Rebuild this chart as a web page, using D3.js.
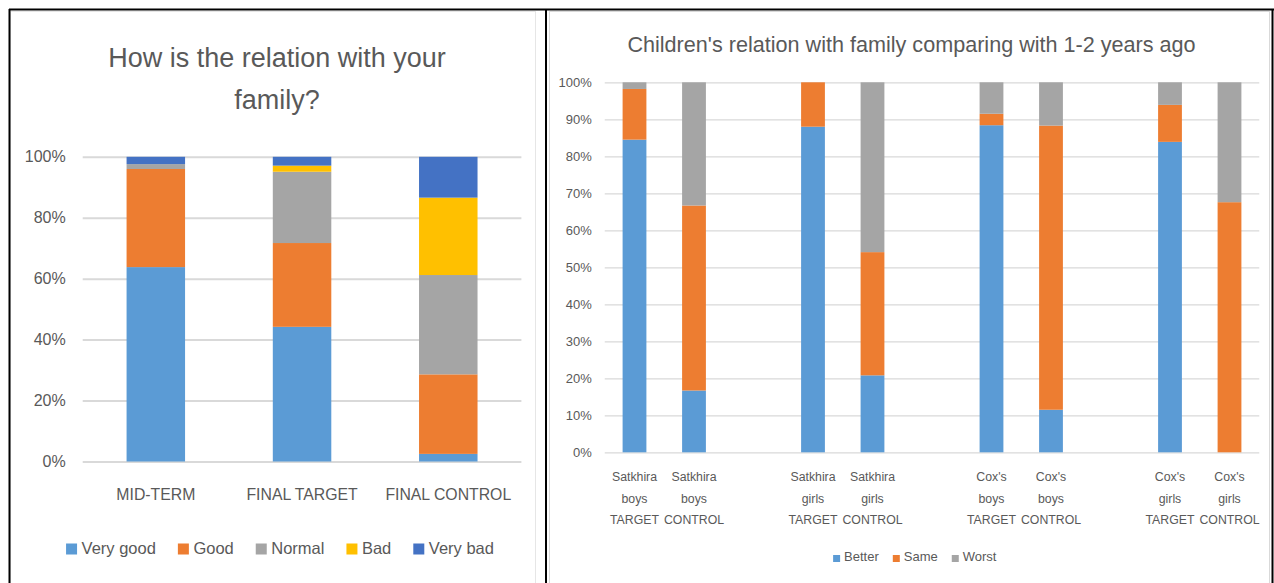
<!DOCTYPE html>
<html>
<head>
<meta charset="utf-8">
<script src="https://cdn.jsdelivr.net/npm/d3@7"></script>
<style>
  html, body { margin: 0; padding: 0; background: #fff; }
  svg { display: block; }
  text { font-family: "Liberation Sans", Arial, sans-serif; fill: #595959; }
</style>
</head>
<body>
<svg id="chart" width="1274" height="583"></svg>
<script>
// ---- Panel 1: How is the relation with your family? ----
const familyCategories = ["MID-TERM", "FINAL TARGET", "FINAL CONTROL"];
const familySeries = ["Very good", "Good", "Normal", "Bad", "Very bad"];
const veryGood = [63.8, 44.2, 2.5];
const good     = [32.2, 27.5, 26.1];
const normal   = [1.6, 23.4, 32.6];
const bad      = [0, 2.0, 25.4];
const veryBad  = [2.4, 2.9, 13.4];
const familyTicks = [0, 20, 40, 60, 80, 100];

// ---- Panel 2: Children's relation with family comparing with 1-2 years ago ----
const groups = ["Satkhira boys", "Satkhira girls", "Cox's boys", "Cox's girls"];
const arms = ["TARGET", "CONTROL"];
const changeSeries = ["Better", "Same", "Worst"];
const better = [84.5, 16.7, 88.0, 20.8, 88.4, 11.5, 83.9, 0];
const same   = [13.7, 50.0, 12.0, 33.3, 3.1, 76.8, 10.0, 67.6];
const worst  = [1.8, 33.3, 0, 45.9, 8.5, 11.7, 6.1, 32.4];
const changeTicks = [0, 10, 20, 30, 40, 50, 60, 70, 80, 90, 100];

const COLORS = {
  "Very good": "#5B9BD5", "Good": "#ED7D31", "Normal": "#A5A5A5",
  "Bad": "#FFC000", "Very bad": "#4472C4",
  "Better": "#5B9BD5", "Same": "#ED7D31", "Worst": "#A5A5A5"
};
const GRID = "#D9D9D9";

const svg = d3.select("#chart");

// frame lines around the two panels
const frame = svg.append("g");
frame.append("rect").attr("x", 10.5).attr("y", 11.5).attr("width", 525).attr("height", 580)
  .attr("fill", "none").attr("stroke", "#E6E6E6");
frame.append("rect").attr("x", 549.5).attr("y", 11.5).attr("width", 720).attr("height", 580)
  .attr("fill", "none").attr("stroke", GRID);
[[9, 9.5, 1274, 9.5], [9.5, 9, 9.5, 583], [546, 9, 546, 583], [1272.5, 9, 1272.5, 583]]
  .forEach(([x1, y1, x2, y2]) => frame.append("line")
    .attr("x1", x1).attr("y1", y1).attr("x2", x2).attr("y2", y2)
    .attr("stroke", "#000").attr("stroke-width", 2));

// generic stacked bar drawer
function stackedBars(g, rows, keys, x, y) {
  const stack = d3.stack().keys(keys)(rows);
  g.selectAll("g.series").data(stack).join("g")
    .attr("class", "series")
    .attr("fill", d => COLORS[d.key])
    .selectAll("rect").data(d => d).join("rect")
      .attr("x", d => x(d.data.cat))
      .attr("width", x.bandwidth())
      .attr("y", d => y(d[1]))
      .attr("height", d => Math.max(0, y(d[0]) - y(d[1])));
}

function legend(g, keys, cx, baseline, box, gap, itemGap, fontSize) {
  const items = g.selectAll("g").data(keys).join("g");
  items.append("rect")
    .attr("width", box).attr("height", box)
    .attr("y", baseline - box + 1)
    .attr("fill", d => COLORS[d]);
  items.append("text")
    .attr("y", baseline)
    .attr("font-size", fontSize)
    .text(d => d);
  const widths = [];
  items.each(function () {
    widths.push(d3.select(this).select("text").node().getComputedTextLength());
  });
  const total = d3.sum(widths) + keys.length * (box + gap) + (keys.length - 1) * itemGap;
  let xPos = cx - total / 2;
  items.each(function (d, i) {
    const it = d3.select(this);
    it.select("rect").attr("x", xPos);
    it.select("text").attr("x", xPos + box + gap);
    xPos += box + gap + widths[i] + itemGap;
  });
}

// ================= Panel 1 =================
{
  const g = svg.append("g");
  const x = d3.scaleBand().domain(familyCategories).range([82.7, 521.4])
    .paddingInner(0.6).paddingOuter(0.3);
  const y = d3.scaleLinear().domain([0, 100]).range([461.5, 156.8]);

  g.append("text").attr("x", 277).attr("y", 66.5).attr("text-anchor", "middle")
    .attr("font-size", 27).text("How is the relation with your");
  g.append("text").attr("x", 277).attr("y", 108.5).attr("text-anchor", "middle")
    .attr("font-size", 27).text("family?");

  const yAxis = g.append("g").attr("transform", "translate(82.7,0)")
    .call(d3.axisLeft(y).tickValues(familyTicks).tickFormat(d => d + "%")
      .tickSizeInner(-(521.4 - 82.7)).tickSizeOuter(0).tickPadding(17));
  yAxis.select(".domain").remove();
  yAxis.selectAll("line").attr("stroke", GRID).attr("stroke-width", 2);
  yAxis.selectAll("text").attr("font-size", 16).attr("fill", "#595959")
    .attr("font-family", "Liberation Sans, Arial, sans-serif");

  const rows = familyCategories.map((cat, i) => ({
    cat,
    "Very good": veryGood[i], "Good": good[i], "Normal": normal[i],
    "Bad": bad[i], "Very bad": veryBad[i]
  }));
  stackedBars(g.append("g"), rows, familySeries, x, y);

  const xAxis = g.append("g").attr("transform", "translate(0,461.5)")
    .call(d3.axisBottom(x).tickSize(0).tickPadding(27));
  xAxis.select(".domain").remove();
  xAxis.selectAll("text").attr("font-size", 15.8).attr("fill", "#595959")
    .attr("font-family", "Liberation Sans, Arial, sans-serif");

  legend(g.append("g"), familySeries, 280, 553.5, 11, 4.5, 22, 16.5);
}

// ================= Panel 2 =================
{
  const g = svg.append("g");
  const categories = [];
  const slots = [];
  groups.forEach((grp, gi) => {
    arms.forEach(arm => {
      const c = grp + " " + arm;
      categories.push(c);
      slots.push(c);
    });
    if (gi < groups.length - 1) slots.push("gap" + gi);
  });

  const x = d3.scaleBand().domain(slots).range([604.75, 1259.25])
    .paddingInner(0.6).paddingOuter(0.3);
  const y = d3.scaleLinear().domain([0, 100]).range([452.3, 82.3]);

  g.append("text").attr("x", 911.5).attr("y", 51.5).attr("text-anchor", "middle")
    .attr("font-size", 21.6).text("Children's relation with family comparing with 1-2 years ago");

  const yAxis = g.append("g").attr("transform", "translate(604.75,0)")
    .call(d3.axisLeft(y).tickValues(changeTicks).tickFormat(d => d + "%")
      .tickSizeInner(-(1259.25 - 604.75)).tickSizeOuter(0).tickPadding(13));
  yAxis.select(".domain").remove();
  yAxis.selectAll("line").attr("stroke", GRID).attr("stroke-width", 1.3);
  yAxis.selectAll("text").attr("font-size", 13).attr("fill", "#595959")
    .attr("font-family", "Liberation Sans, Arial, sans-serif");

  const rows = categories.map((cat, i) => ({
    cat, "Better": better[i], "Same": same[i], "Worst": worst[i]
  }));
  stackedBars(g.append("g"), rows, changeSeries, x, y);

  // multi-line category labels under each bar, one word per line
  const labels = g.append("g");
  categories.forEach(cat => {
    const words = cat.split(" ");
    const t = labels.append("text")
      .attr("x", x(cat) + x.bandwidth() / 2)
      .attr("text-anchor", "middle")
      .attr("font-size", 12.3);
    words.forEach((w, k) => {
      t.append("tspan").attr("x", x(cat) + x.bandwidth() / 2)
        .attr("y", 481 + k * 21.5).text(w);
    });
  });

  legend(g.append("g"), changeSeries, 914.8, 561, 7, 4, 14, 13);
}
</script>
</body>
</html>
